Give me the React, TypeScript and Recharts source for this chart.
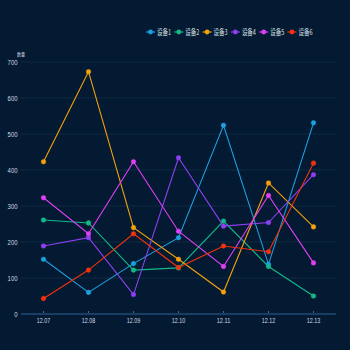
import React from 'react';
import { LineChart, Line, XAxis, YAxis, CartesianGrid } from 'recharts';

const categories = ['12.07', '12.08', '12.09', '12.10', '12.11', '12.12', '12.13'];
const seriesNames = ['设备1', '设备2', '设备3', '设备4', '设备5', '设备6'];
const device1 = [152, 60, 140, 212, 524, 138, 531];
const device2 = [261, 253, 122, 128, 258, 132, 50];
const device3 = [423, 673, 240, 152, 61, 364, 242];
const device4 = [189, 212, 54, 434, 244, 254, 387];
const device5 = [323, 223, 423, 230, 132, 329, 142];
const device6 = [43, 122, 223, 129, 189, 173, 419];
const yTicks = [0, 100, 200, 300, 400, 500, 600, 700];

const colors = ['#1f9fe0', '#12b888', '#f5a00c', '#8f3ff2', '#e23ff5', '#f2320c'];
const allSeries = [device1, device2, device3, device4, device5, device6];

const data = categories.map((c, i) => {
  const row: Record<string, any> = { name: c };
  seriesNames.forEach((s, k) => {
    row[s] = allSeries[k][i];
  });
  return row;
});

const textColor = '#d2d9e2';
const font = '"Liberation Sans", Arial, sans-serif';

const XTick = (props: any) => {
  const { x, y, payload } = props;
  return (
    <g>
      <line x1={x} y1={y - 3} x2={x} y2={y - 1} stroke="#3a6a94" strokeWidth={1} />
      <text x={x} y={y + 8.8} textAnchor="middle" fontSize={7.2} fill={textColor} fontFamily={font}
        textLength={13.5} lengthAdjust="spacingAndGlyphs">
        {payload.value}
      </text>
    </g>
  );
};

const YTick = (props: any) => {
  const { x, y, payload } = props;
  const s = String(payload.value);
  const w = s.length * 3.3;
  return (
    <text x={x} y={y + 2.5} textAnchor="end" fontSize={7} fill={textColor} fontFamily={font}
      textLength={w} lengthAdjust="spacingAndGlyphs">
      {s}
    </text>
  );
};

const LegendBox = () => (
  <svg width={200} height={16} style={{ position: 'absolute', left: 140, top: 24 }}>
    {seriesNames.map((s, k) => {
      const cx = 10.5 + k * 28.3;
      return (
        <g key={s}>
          <line x1={cx - 4.5} y1={8} x2={cx + 4.5} y2={8} stroke={colors[k]} strokeWidth={1.2} />
          <circle cx={cx} cy={8} r={2.4} fill={colors[k]} />
          <text x={cx + 6.5} y={10.8} fontSize={7.5} fill="#dde2e8" fontFamily='"Noto Sans CJK SC", sans-serif'
            textLength={14} lengthAdjust="spacingAndGlyphs">
            {s}
          </text>
        </g>
      );
    })}
  </svg>
);

export default function App() {
  return (
    <div style={{ position: 'absolute', left: 0, top: 0, width: 350, height: 350, background: '#031a32' }}>
      <LineChart width={350} height={350} data={data} margin={{ top: 62, right: 14, bottom: 0, left: 0 }}>
        <CartesianGrid vertical={false} stroke="#0f2a42" strokeWidth={1} />
        <XAxis
          dataKey="name"
          padding={{ left: 22.5, right: 22.5 }}
          height={36}
          tickLine={false}
          tickSize={0}
          tickMargin={0}
          axisLine={{ stroke: '#1e4a72', strokeWidth: 1.5 }}
          tick={<XTick />}
          interval={0}
        />
        <YAxis
          width={21}
          domain={[0, 700]}
          ticks={yTicks}
          axisLine={false}
          tickLine={false}
          tickSize={3.5}
          tickMargin={0}
          tick={<YTick />}
        />
        {seriesNames.map((s, k) => (
          <Line
            key={s}
            type="linear"
            dataKey={s}
            stroke={colors[k]}
            strokeWidth={1.1}
            dot={{ r: 2.3, fill: colors[k], stroke: colors[k], strokeWidth: 0.5 }}
            isAnimationActive={false}
          />
        ))}
      </LineChart>
      <svg width={20} height={10} style={{ position: 'absolute', left: 15, top: 48 }}>
        <text x={2} y={7.5} fontSize={5} fill={textColor} fontFamily='"Noto Sans CJK SC", sans-serif'
          textLength={8} lengthAdjust="spacingAndGlyphs">数量</text>
      </svg>
      <LegendBox />
    </div>
  );
}
